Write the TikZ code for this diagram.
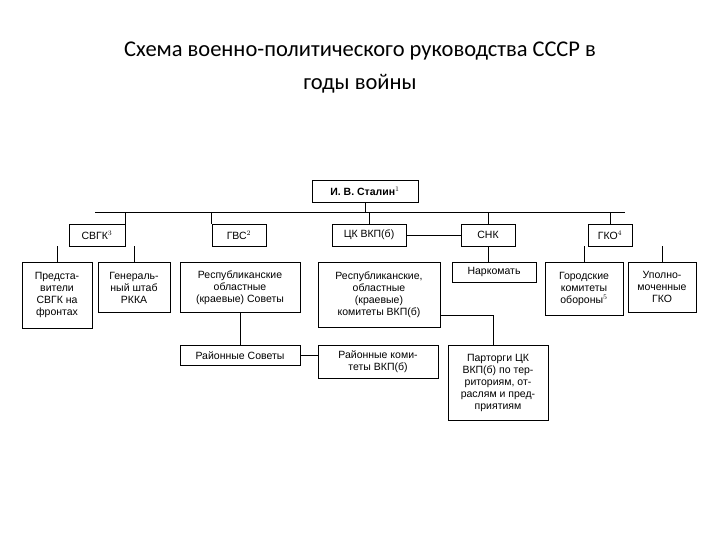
\documentclass[tikz,border=0pt]{standalone}
\usepackage{fontspec}
\setmainfont{Liberation Sans}
\newfontfamily\titlefont{Carlito}
\begin{document}
\begin{tikzpicture}[x=1pt,y=-1pt,
  bx/.style={draw,line width=0.8pt,inner sep=1pt,align=center,font=\fontsize{10.5}{12}\selectfont},
  ln/.style={line width=0.8pt}]
\useasboundingbox (0,0) rectangle (720,540);
\node[font=\titlefont\fontsize{22.5}{33}\selectfont,align=center] (title) at (360,68)
  {Схема военно-политического руководства СССР в\\годы войны};
% Stalin
\node[bx,minimum width=106,minimum height=22,font=\bfseries\fontsize{10.5}{12}\selectfont] (st) at (365,191) {И. В. Сталин$^1$};
\coordinate (busL) at (95,212); \coordinate (busR) at (625,212);
\draw[ln] (busL) -- (busR);
\draw[ln] (st.south) -- (st.south|-busL);
% row 2
\node[bx,minimum width=56,minimum height=22] (svgk) at (97,235) {СВГК$^3$};
\node[bx,minimum width=54,minimum height=22] (gvs) at (239,235) {ГВС$^2$};
\node[bx,minimum width=74,minimum height=22] (ck) at (369,235) {ЦК ВКП(б)};
\node[bx,minimum width=54,minimum height=22] (snk) at (488,235) {СНК};
\node[bx,minimum width=44,minimum height=22] (gko) at (610,235) {ГКО$^4$};
\draw[ln] (svgk.north east) -- (svgk.north east|-busL);
\draw[ln] (gvs.north west) -- (gvs.north west|-busL);
\draw[ln] (ck.north) -- (ck.north|-busL);
\draw[ln] (snk.north) -- (snk.north|-busL);
\draw[ln] (gko.north) -- (gko.north|-busL);
\draw[ln] (ck.east) -- (snk.west);
% row 3
\node[bx,minimum width=70,minimum height=66,anchor=north] (pred) at (57,262) {Предста-\\вители\\СВГК на\\фронтах};
\node[bx,minimum width=72,minimum height=50,anchor=north] (gsh) at (134,262) {Генераль-\\ный штаб\\РККА};
\node[bx,minimum width=120,minimum height=50,anchor=north] (rs) at (240,262) {Республиканские\\областные\\(краевые) Советы};
\node[bx,minimum width=122,minimum height=65,anchor=north] (rk) at (379,262) {Республиканские,\\областные\\(краевые)\\комитеты ВКП(б)};
\node[bx,minimum width=84,minimum height=20,anchor=north] (nk) at (494,262) {Наркомать};
\node[bx,minimum width=78,minimum height=53,anchor=north] (gk) at (584,262) {Городские\\комитеты\\обороны$^5$};
\node[bx,minimum width=68,minimum height=50,anchor=north] (up) at (662,262) {Уполно-\\моченные\\ГКО};
\draw[ln] (pred.north) -- (pred.north|-svgk.south);
\draw[ln] (gsh.north) -- (gsh.north|-svgk.south);
\draw[ln] (nk.north) -- (nk.north-|snk.south) -- (snk.south);
\draw[ln] (gk.north) -- (gk.north|-gko.south);
\draw[ln] (up.north) -- (up.north|-gko.south);
% row 4
\node[bx,minimum width=120,minimum height=20,anchor=north] (rsov) at (240,345) {Районные Советы};
\node[bx,minimum width=120,minimum height=33,anchor=north] (rkom) at (378,345) {Районные коми-\\теты ВКП(б)};
\node[bx,minimum width=100,minimum height=75,anchor=north] (part) at (498,345) {Парторги ЦК\\ВКП(б) по тер-\\риториям, от-\\раслям и пред-\\приятиям};
\draw[ln] (rs.south) -- (rsov.north);
\draw[ln] (rsov.east) -- (rsov.east-|rkom.west);
\coordinate (kk) at (493,315);
\draw[ln] (rk.east|-kk) -- (kk) -- (kk|-part.north);
\end{tikzpicture}
\end{document}
